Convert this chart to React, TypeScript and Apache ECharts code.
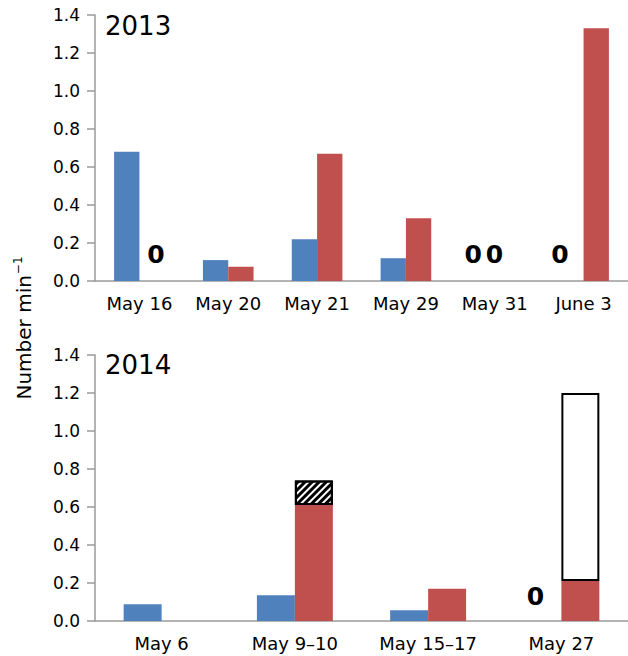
import React, { useEffect, useRef } from "react";
import * as echarts from "echarts";

// ---- data ----
const cats2013 = ["May 16", "May 20", "May 21", "May 29", "May 31", "June 3"];
const blue2013 = [0.68, 0.11, 0.22, 0.12, 0, 0];
const red2013 = [0, 0.075, 0.67, 0.33, 0, 1.33];

const cats2014 = ["May 6", "May 9–10", "May 15–17", "May 27"];
const blue2014 = [0.088, 0.135, 0.056, 0];
const red2014 = [0, 0.61, 0.17, 0.21];
const hatched2014: (number | null)[] = [null, 0.13, null, null];
const open2014: (number | null)[] = [null, null, null, 0.99];

const yTicks = [0, 0.2, 0.4, 0.6, 0.8, 1.0, 1.2, 1.4];
const panelTitles = ["2013", "2014"];

// ---- styling / layout ----
const FONT = "DejaVu Sans";
const BLUE = "#4F81BD";
const RED = "#C0504D";
const AXIS = "#9a9a9a";

// which zero values get a bold "0" label, and its nudge
const zeroLabels2013Blue: Record<number, [number, number]> = { 4: [-9, 0], 5: [-11, 0] };
const zeroLabels2013Red: Record<number, [number, number]> = { 0: [4, 0], 4: [-13, 0] };
const zeroLabels2014Blue: Record<number, [number, number]> = { 3: [-7, 0] };

function withZeroLabels(values: number[], labels: Record<number, [number, number]>, distance: number) {
  return values.map((v, i) => {
    if (labels[i]) {
      return {
        value: v,
        label: {
          show: true,
          position: "top",
          distance,
          offset: labels[i],
          formatter: "0",
          fontFamily: FONT,
          fontWeight: "bold",
          fontSize: 25,
          color: "#000",
        },
      };
    }
    return v;
  });
}

const toSeriesData = (arr: (number | null)[]) => arr.map((v) => (v === null ? "-" : v));

function xAxisCfg(gridIndex: number, data: string[]) {
  return {
    gridIndex,
    type: "category",
    data,
    axisLine: { lineStyle: { color: AXIS, width: 1.5 } },
    axisTick: { length: 8, lineStyle: { color: AXIS, width: 1.5 } },
    axisLabel: { interval: 0, color: "#000", fontFamily: FONT, fontSize: 18, margin: 13 },
  };
}

function yAxisCfg(gridIndex: number) {
  return {
    gridIndex,
    type: "value",
    min: yTicks[0],
    max: yTicks[yTicks.length - 1],
    interval: 0.2,
    splitLine: { show: false },
    axisLine: { show: true, lineStyle: { color: AXIS, width: 1.5 } },
    axisTick: { show: true, length: 8, lineStyle: { color: AXIS, width: 1.5 } },
    axisLabel: {
      color: "#000",
      fontFamily: FONT,
      fontSize: 17,
      margin: 15,
      formatter: (v: number) => v.toFixed(1),
    },
  };
}

export default function App() {
  const ref = useRef<HTMLDivElement>(null);
  useEffect(() => {
    if (!ref.current) return;
    const chart = echarts.init(ref.current, null, { renderer: "svg" });
    const barCommon = { barGap: "0%", barCategoryGap: "43%" };
    const option: any = {
      animation: false,
      title: [
        {
          text: panelTitles[0],
          left: 105,
          top: 13,
          padding: 0,
          textStyle: { fontFamily: FONT, fontSize: 26, fontWeight: "normal", color: "#000" },
        },
        {
          text: panelTitles[1],
          left: 105,
          top: 352,
          padding: 0,
          textStyle: { fontFamily: FONT, fontSize: 26, fontWeight: "normal", color: "#000" },
        },
      ],
      grid: [
        { left: 95, top: 15, width: 533, height: 266 },
        { left: 95, top: 355, width: 533, height: 266 },
      ],
      xAxis: [xAxisCfg(0, cats2013), xAxisCfg(1, cats2014)],
      yAxis: [yAxisCfg(0), yAxisCfg(1)],
      graphic: [
        {
          type: "text",
          x: 24,
          y: 328,
          rotation: Math.PI / 2,
          style: {
            text: "{a|Number min}{b|−1}",
            align: "center",
            verticalAlign: "middle",
            textAlign: "center",
            textVerticalAlign: "middle",
            fill: "#000",
            rich: {
              a: { fontFamily: FONT, fontSize: 20, lineHeight: 24, fill: "#000", color: "#000" },
              b: { fontFamily: FONT, fontSize: 12, lineHeight: 24, verticalAlign: "top", padding: [0, 0, 10, 1], fill: "#000", color: "#000" },
            },
          },
        },
      ],
      series: [
        {
          type: "bar",
          xAxisIndex: 0,
          yAxisIndex: 0,
          data: withZeroLabels(blue2013, zeroLabels2013Blue, 14),
          itemStyle: { color: BLUE },
          ...barCommon,
        },
        {
          type: "bar",
          xAxisIndex: 0,
          yAxisIndex: 0,
          data: withZeroLabels(red2013, zeroLabels2013Red, 14),
          itemStyle: { color: RED },
          ...barCommon,
        },
        {
          type: "bar",
          xAxisIndex: 1,
          yAxisIndex: 1,
          data: withZeroLabels(blue2014, zeroLabels2014Blue, 12),
          itemStyle: { color: BLUE },
          ...barCommon,
        },
        {
          type: "bar",
          xAxisIndex: 1,
          yAxisIndex: 1,
          stack: "r",
          data: red2014,
          itemStyle: { color: RED },
          ...barCommon,
        },
        {
          type: "bar",
          xAxisIndex: 1,
          yAxisIndex: 1,
          stack: "r",
          data: toSeriesData(hatched2014),
          itemStyle: {
            color: "#fff",
            borderColor: "#000",
            borderWidth: 2,
            decal: {
              symbol: "rect",
              symbolSize: 1,
              color: "#000",
              backgroundColor: "#fff",
              dashArrayX: [1, 0],
              dashArrayY: [3, 2],
              rotation: -Math.PI / 4,
            },
          },
          ...barCommon,
        },
        {
          type: "bar",
          xAxisIndex: 1,
          yAxisIndex: 1,
          stack: "r",
          data: toSeriesData(open2014),
          itemStyle: { color: "#fff", borderColor: "#000", borderWidth: 2 },
          ...barCommon,
        },
      ],
    };
    chart.setOption(option);
    return () => chart.dispose();
  }, []);
  return <div ref={ref} style={{ width: 628, height: 656, position: "absolute", left: 0, top: 0 }} />;
}
